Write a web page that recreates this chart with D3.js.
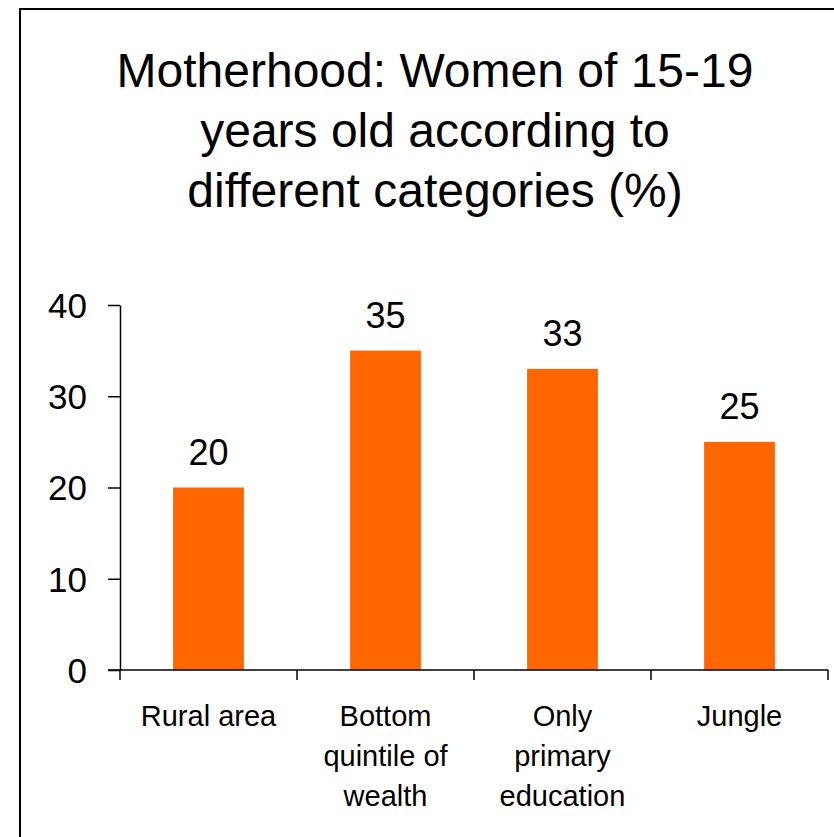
<!DOCTYPE html>
<html>
<head>
<meta charset="utf-8">
<script src="https://cdn.jsdelivr.net/npm/d3@7"></script>
<style>
  body { margin: 0; background: #fff; }
  text { font-family: "Liberation Sans", Arial, sans-serif; fill: #000; }
</style>
</head>
<body>
<div id="chart"></div>
<script>
let width = 834, // chart width
    height = 837; // chart height

// data
const categories = ['Rural area', 'Bottom quintile of wealth', 'Only primary education', 'Jungle'];
const labelLines = [['Rural area'], ['Bottom', 'quintile of', 'wealth'], ['Only', 'primary', 'education'], ['Jungle']];
const values = [20, 35, 33, 25];
const yTicks = [0, 10, 20, 30, 40];
const titleLines = ['Motherhood: Women of 15-19', 'years old according to', 'different categories (%)'];

const margin = {left: 120, right: 6, top: 305, bottom: 167};

let svg = d3.select('#chart')
  .append('svg')
  .attr('width', width)
  .attr('height', height);

// outer frame (runs off the right and bottom edges)
svg.append('rect')
  .attr('x', 20)
  .attr('y', 9)
  .attr('width', 860)
  .attr('height', 860)
  .attr('fill', 'none')
  .attr('stroke', '#000')
  .attr('stroke-width', 2);

// title
svg.append('text')
  .attr('text-anchor', 'middle')
  .style('font-size', '48px')
  .selectAll('tspan')
  .data(titleLines)
  .enter()
  .append('tspan')
  .attr('x', 435)
  .attr('y', function(d, i){ return 87 + i * 60; })
  .text(function(d){ return d; });

let x = d3.scaleBand()
  .domain(categories)
  .range([margin.left, width - margin.right])
  .paddingInner(0.6)
  .paddingOuter(0.3);

let y = d3.scaleLinear()
  .domain([0, 40])
  .range([height - margin.bottom, margin.top]);

// bars
svg.selectAll('.bar')
  .data(values)
  .enter()
  .append('rect')
  .attr('class', 'bar')
  .attr('x', function(d, i){ return x(categories[i]); })
  .attr('y', function(d){ return y(d); })
  .attr('width', x.bandwidth())
  .attr('height', function(d){ return y(0) - y(d); })
  .attr('fill', '#ff6600');

// value labels
svg.selectAll('.val')
  .data(values)
  .enter()
  .append('text')
  .attr('class', 'val')
  .attr('text-anchor', 'middle')
  .attr('x', function(d, i){ return x(categories[i]) + x.bandwidth() / 2; })
  .attr('y', function(d){ return y(d) - 23; })
  .style('font-size', '36px')
  .text(function(d){ return d; });

// y axis
let yAxis = svg.append('g')
  .attr('transform', 'translate(' + margin.left + ',0)')
  .call(d3.axisLeft(y).tickValues(yTicks).tickSize(12).tickPadding(21).tickSizeOuter(0));
yAxis.selectAll('text').style('font-size', '35px').attr('dy', '0.35em');
yAxis.selectAll('line, path').attr('stroke', '#000').attr('stroke-width', 1.5);

// x axis line with ticks between categories
let bounds = d3.range(categories.length + 1).map(function(i){
  return x.range()[0] + i * x.step() * (x.range()[1] - x.range()[0]) / (x.step() * categories.length);
});
let xg = svg.append('g');
xg.append('line')
  .attr('x1', margin.left - 12)
  .attr('x2', width - margin.right)
  .attr('y1', y(0))
  .attr('y2', y(0))
  .attr('stroke', '#000')
  .attr('stroke-width', 1.5);
xg.selectAll('.xtick')
  .data(bounds)
  .enter()
  .append('line')
  .attr('x1', function(d){ return d; })
  .attr('x2', function(d){ return d; })
  .attr('y1', y(0))
  .attr('y2', y(0) + 10)
  .attr('stroke', '#000')
  .attr('stroke-width', 1.5);

// category labels
xg.selectAll('.cat')
  .data(categories)
  .enter()
  .append('text')
  .attr('class', 'cat')
  .attr('text-anchor', 'middle')
  .style('font-size', '29px')
  .each(function(d, i){
    let cx = x(d) + x.bandwidth() / 2;
    d3.select(this).selectAll('tspan')
      .data(labelLines[i])
      .enter()
      .append('tspan')
      .attr('x', cx)
      .attr('y', function(t, j){ return 726 + j * 40; })
      .text(function(t){ return t; });
  });
</script>
</body>
</html>
